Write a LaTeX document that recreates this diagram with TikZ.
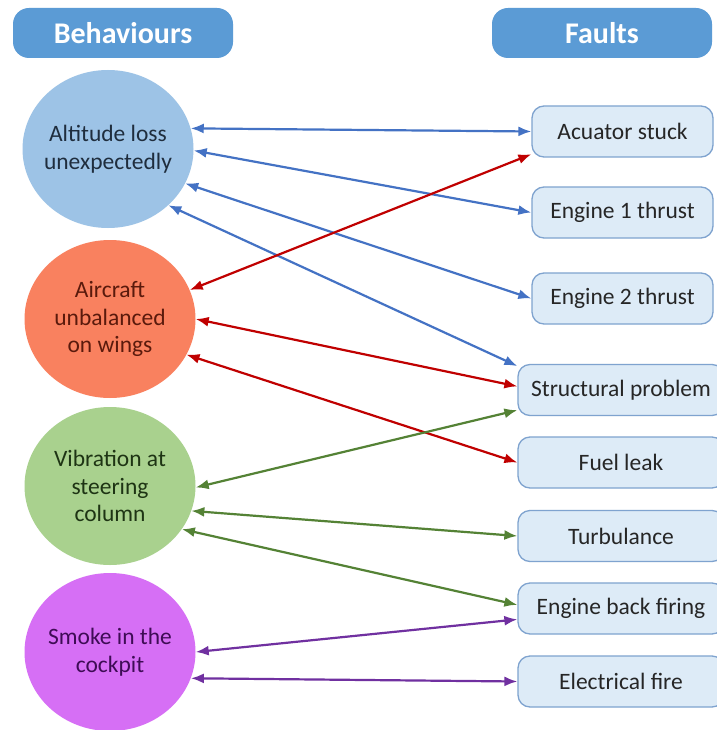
\documentclass[tikz,border=0pt]{standalone}
\usepackage{fontspec}
\setmainfont{Carlito}
\usetikzlibrary{arrows.meta,shapes.geometric}
\definecolor{hdr}{HTML}{5B9BD5}
\definecolor{cone}{HTML}{9DC3E6}
\definecolor{ctwo}{HTML}{F9815F}
\definecolor{cthree}{HTML}{A9D18E}
\definecolor{cfour}{HTML}{D66FF5}
\definecolor{tone}{HTML}{1F2D3D}
\definecolor{ttwo}{HTML}{5A1A0C}
\definecolor{tthree}{HTML}{1E3414}
\definecolor{tfour}{HTML}{3E0C55}
\definecolor{boxfill}{HTML}{DDEBF7}
\definecolor{boxedge}{HTML}{7FA3CF}
\definecolor{boxtext}{HTML}{262626}
\definecolor{lblue}{HTML}{4472C4}
\definecolor{lred}{HTML}{C00000}
\definecolor{lgreen}{HTML}{548235}
\definecolor{lpurple}{HTML}{7030A0}
\begin{document}
\begin{tikzpicture}[x=1pt,y=-1pt,
  header/.style={draw=none, fill=hdr, rounded corners=16pt, minimum width=220pt,
    minimum height=50pt, inner sep=0pt, text=white,
    font=\bfseries\fontsize{30}{32}\selectfont},
  behav/.style={ellipse, minimum width=171pt, minimum height=158pt, inner sep=0pt},
  behavtext/.style={align=center, inner sep=0pt, font=\fontsize{23.5}{27.5}\selectfont},
  faulta/.style={draw=boxedge, fill=boxfill, rounded corners=12pt, line width=1.3pt,
    minimum width=181pt, minimum height=51pt, inner sep=0pt, text=boxtext,
    font=\fontsize{23.5}{27.5}\selectfont},
  faultb/.style={faulta, minimum width=206pt},
  link/.style={{Latex[length=13pt,width=10pt]}-{Latex[length=13pt,width=10pt]}, line width=2.2pt}
]
\useasboundingbox (0,0) rectangle (716,730);
\fill[white] (0,0) rectangle (716,730);

\node[header] (hb) at (123,33) {Behaviours};
\node[header] (hf) at (602,33) {Faults};

\node[behav, fill=cone, label={[behavtext, text=tone]center:{Altitude loss\\unexpectedly}}] (alt) at (108,149) {};
\node[behav, fill=ctwo, label={[behavtext, text=ttwo]center:{Aircraft\\unbalanced\\on wings}}] (air) at (110,319) {};
\node[behav, fill=cthree, label={[behavtext, text=tthree]center:{Vibration at\\steering\\column}}] (vib) at (110,486) {};
\node[behav, fill=cfour, label={[behavtext, text=tfour]center:{Smoke in the\\cockpit}}] (smk) at (110,652) {};

\node[faulta] (acu) at (622.5,131.5) {Acuator stuck};
\node[faulta] (eone) at (622.5,212.5) {Engine 1 thrust};
\node[faulta] (etwo) at (622.5,298.5) {Engine 2 thrust};
\node[faultb] (str) at (621,390) {Structural problem};
\node[faultb] (fuel) at (621,462.5) {Fuel leak};
\node[faultb] (turb) at (621,536) {Turbulance};
\node[faultb] (ebf) at (621,608.5) {Engine back firing};
\node[faultb] (efire) at (621,681.5) {Electrical fire};

\draw[link, lblue] (alt.14.5) -- (acu.west);
\draw[link, lblue] (alt.-1) -- (eone.west);
\draw[link, lblue] (alt.-24.5) -- (etwo.west);
\draw[link, lblue] (alt.-43.6) -- (str.167);

\draw[link, lred] (air.20.5) -- (acu.194);
\draw[link, lred] (air.-0.7) -- (str.178);
\draw[link, lred] (air.-25.4) -- (fuel.west);

\draw[link, lgreen] (vib.-1) -- (str.191.5);
\draw[link, lgreen] (vib.-17.4) -- (turb.west);
\draw[link, lgreen] (vib.-31.6) -- (ebf.178);

\draw[link, lpurple] (smk.0) -- (ebf.186.4);
\draw[link, lpurple] (smk.-18.9) -- (efire.west);
\end{tikzpicture}
\end{document}
